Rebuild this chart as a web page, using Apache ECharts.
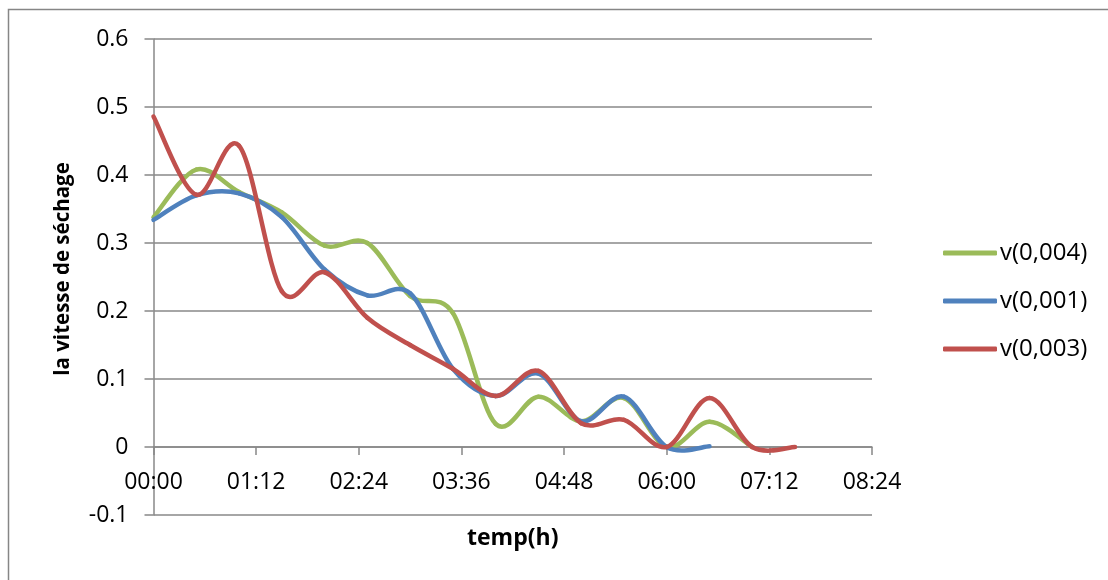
<!DOCTYPE html>
<html>
<head>
<meta charset="utf-8">
<title>Vitesse de séchage</title>
<script src="https://cdn.jsdelivr.net/npm/echarts@6/dist/echarts.min.js"></script>
<style>
  html, body { margin: 0; padding: 0; background: #fff; }
  #chart { width: 1108px; height: 580px; }
</style>
</head>
<body>
<div id="chart"></div>
<script>
// Time of each measurement, in minutes since the start of drying
const minutes = [0, 30, 60, 90, 120, 150, 180, 210, 240, 270, 300, 330, 360, 390, 420, 450];

// Drying rate for each sample
const v004 = [0.338, 0.408, 0.375, 0.345, 0.296, 0.300, 0.222, 0.197, 0.034, 0.074, 0.038, 0.072, 0.000, 0.037, 0.000];
const v001 = [0.334, 0.370, 0.373, 0.338, 0.261, 0.223, 0.226, 0.115, 0.075, 0.108, 0.038, 0.074, 0.000, 0.001];
const v003 = [0.486, 0.371, 0.443, 0.229, 0.257, 0.190, 0.150, 0.115, 0.075, 0.112, 0.035, 0.040, 0.000, 0.072, 0.000, 0.000];

const seriesNames = ['v(0,004)', 'v(0,001)', 'v(0,003)'];
const seriesColors = ['#9BBB59', '#4F81BD', '#C0504D'];

// Axis ticks
const yTicks = [-0.1, 0, 0.1, 0.2, 0.3, 0.4, 0.5, 0.6];
const xTickLabels = ['00:00', '01:12', '02:24', '03:36', '04:48', '06:00', '07:12', '08:24'];

const xTitle = 'temp(h)';
const yTitle = 'la vitesse de séchage';

const FONT = '"Open Sans", "Liberation Sans", sans-serif';
const AXIS_GREY = '#888888';

const Y_MIN = -0.1, Y_MAX = 0.6;
const GRID = { left: 153.5, top: 39, right: 236, bottom: 65 };
const GRID_H = 580 - GRID.top - GRID.bottom;
// the time axis sits on the zero line, not at the bottom of the plot
const X_AXIS_SHIFT = -GRID_H * (0 - Y_MIN) / (Y_MAX - Y_MIN);

// Smoothed line: one cubic segment per pair of measurements, with
// control points taken from the neighbouring measurements (Catmull-Rom).
function smoothLineSeries(name, values, color) {
  const last = values.length - 1;
  const at = (k) => Math.min(Math.max(k, 0), last);
  return {
    type: 'custom',
    name,
    coordinateSystem: 'cartesian2d',
    itemStyle: { color },
    data: values.slice(0, last).map((v, i) => [minutes[i], v]),
    encode: { x: 0, y: 1 },
    renderItem(params, api) {
      const i = params.dataIndex;
      const pt = (k) => api.coord([minutes[at(k)], values[at(k)]]);
      const p0 = pt(i - 1), p1 = pt(i), p2 = pt(i + 1), p3 = pt(i + 2);
      return {
        type: 'bezierCurve',
        shape: {
          x1: p1[0], y1: p1[1],
          x2: p2[0], y2: p2[1],
          cpx1: p1[0] + (p2[0] - p0[0]) / 6,
          cpy1: p1[1] + (p2[1] - p0[1]) / 6,
          cpx2: p2[0] - (p3[0] - p1[0]) / 6,
          cpy2: p2[1] - (p3[1] - p1[1]) / 6
        },
        style: { stroke: color, fill: null, lineWidth: 4.5, lineCap: 'round', lineJoin: 'round' },
        silent: true
      };
    }
  };
}

const chart = echarts.init(document.getElementById('chart'), null, { renderer: 'canvas' });

chart.setOption({
  backgroundColor: '#ffffff',
  animation: false,
  textStyle: { fontFamily: FONT, color: '#000' },
  graphic: [{
    type: 'rect',
    shape: { x: 8.5, y: 9.5, width: 1200, height: 700 },
    style: { fill: 'none', stroke: '#868686', lineWidth: 1.5 },
    silent: true,
    z: -10
  }],
  grid: {
    left: GRID.left, top: GRID.top, right: GRID.right, bottom: GRID.bottom,
    containLabel: false,
    outerBoundsMode: 'none'
  },
  legend: {
    orient: 'vertical',
    left: 938,
    top: 236,
    itemWidth: 54,
    itemHeight: 5,
    itemGap: 24,
    icon: 'roundRect',
    textStyle: { fontFamily: FONT, fontSize: 24, color: '#000', padding: [0, 0, 0, -2] },
    data: seriesNames
  },
  xAxis: {
    type: 'value',
    min: 0,
    max: 504,
    interval: 72,
    offset: X_AXIS_SHIFT,
    name: xTitle,
    nameLocation: 'middle',
    nameGap: 12 - X_AXIS_SHIFT,
    nameMoveOverlap: false,
    nameTextStyle: { fontFamily: FONT, fontSize: 23, fontWeight: 'bold', color: '#000', verticalAlign: 'top' },
    axisLine: { onZero: false, lineStyle: { color: AXIS_GREY, width: 1.5 } },
    axisTick: { show: true, inside: false, length: 8, lineStyle: { color: AXIS_GREY, width: 1.5 } },
    splitLine: { show: false },
    axisLabel: {
      margin: 24,
      fontFamily: FONT,
      fontSize: 23,
      color: '#000',
      showMinLabel: true,
      showMaxLabel: true,
      formatter: (v) => xTickLabels[Math.round(v / 72)] ?? ''
    }
  },
  yAxis: {
    type: 'value',
    min: Y_MIN,
    max: Y_MAX,
    interval: 0.1,
    name: yTitle,
    nameLocation: 'middle',
    nameGap: 80,
    nameRotate: 90,
    nameMoveOverlap: false,
    nameTextStyle: { fontFamily: FONT, fontSize: 20.5, fontWeight: 'bold', color: '#000', padding: [0, 0, 0, 16] },
    axisLine: { show: true, lineStyle: { color: AXIS_GREY, width: 1.5 } },
    axisTick: { show: true, inside: false, length: 9, lineStyle: { color: AXIS_GREY, width: 1.5 } },
    splitLine: { show: true, lineStyle: { color: AXIS_GREY, width: 1.5 } },
    axisLabel: {
      margin: 25,
      fontFamily: FONT,
      fontSize: 23,
      color: '#000',
      formatter: (v) => {
        const t = yTicks.find(k => Math.abs(k - v) < 1e-6);
        return t === undefined ? '' : String(t);
      }
    }
  },
  series: [
    smoothLineSeries(seriesNames[0], v004, seriesColors[0]),
    smoothLineSeries(seriesNames[1], v001, seriesColors[1]),
    smoothLineSeries(seriesNames[2], v003, seriesColors[2])
  ]
});
</script>
</body>
</html>
